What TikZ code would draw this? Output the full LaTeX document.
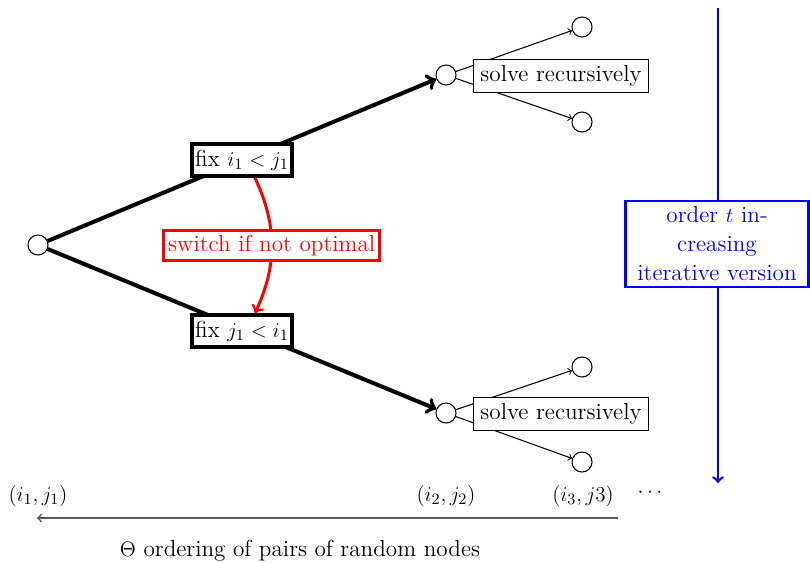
\documentclass[tikz,border=0pt]{standalone}
\usetikzlibrary{backgrounds,calc}
\begin{document}
\begin{tikzpicture}[x=0.02cm,y=-0.02cm,
  font=\fontsize{13.2}{16.5}\selectfont,
  dot/.style={circle,draw,line width=0.6pt,minimum size=11.4pt,inner sep=0pt,fill=white},
  fixbox/.style={draw,line width=2.3pt,fill=white,minimum width=57pt,minimum height=18pt,inner sep=1pt},
  solvebox/.style={draw,line width=0.6pt,fill=white,minimum width=100pt,minimum height=18.8pt,inner sep=1pt},
  switchbox/.style={draw=red,line width=1.7pt,fill=white,text=red,minimum width=123pt,minimum height=17pt,inner sep=1pt},
  orderbox/.style={draw=blue,line width=1.4pt,fill=white,text=blue,align=center,text width=100pt,minimum height=49pt,inner sep=2pt},
  bigarrow/.style={line width=2.3pt,->},
  smallarrow/.style={line width=0.6pt,->},
  >=to]
\useasboundingbox (0,0) rectangle (810,562);

% decision tree
\node[dot] (root) at (38,245) {};
\node[fixbox] (fixA) at (242,160) {fix $i_1 < j_1$};
\node[fixbox] (fixB) at (242,331) {fix $j_1 < i_1$};
\node[dot] (midA) at (446,75) {};
\node[dot] (midB) at (446,413) {};
\node[dot] (leafA1) at (582,27) {};
\node[dot] (leafA2) at (582,122) {};
\node[dot] (leafB1) at (582,367) {};
\node[dot] (leafB2) at (582,462) {};
\node[solvebox] (solA) at (561,76) {solve recursively};
\node[solvebox] (solB) at (561,414) {solve recursively};

% iterative order
\coordinate (ordTop) at (718,8);
\coordinate (ordBot) at (718,483);
\node[orderbox] (order) at (717,244) {order $t$ in-\\creasing\\iterative version};

% pair ordering
\node (p1) at (38,496) {$(i_1,j_1)$};
\node (p2) at (446,496) {$(i_2,j_2)$};
\node (p3) at (583,496) {$(i_3,j3)$};
\node (pdots) at (650,493) {$\cdots$};
\coordinate (axR) at (618,518);
\coordinate (axL) at (37,518);
\node (caption) at (300,551) {$\Theta$ ordering of pairs of random nodes};

\begin{pgfonlayer}{background}
  \draw[bigarrow] (root) -- (midA);
  \draw[bigarrow] (root) -- (midB);
  \draw[smallarrow] (midA) -- (leafA1);
  \draw[smallarrow] (midA) -- (leafA2);
  \draw[smallarrow] (midB) -- (leafB1);
  \draw[smallarrow] (midB) -- (leafB2);
  \draw[blue,line width=1.4pt,->] (ordTop) -- (ordBot);
\end{pgfonlayer}

\draw[red,line width=1.7pt,->] ($(fixA.south)+(13,0)$) to[bend left=25]
  node[switchbox] (switch) {switch if not optimal} ($(fixB.north)+(13,0)$);

\draw[black!65,line width=0.9pt,->] (axR) -- (axL);
\end{tikzpicture}
\end{document}
